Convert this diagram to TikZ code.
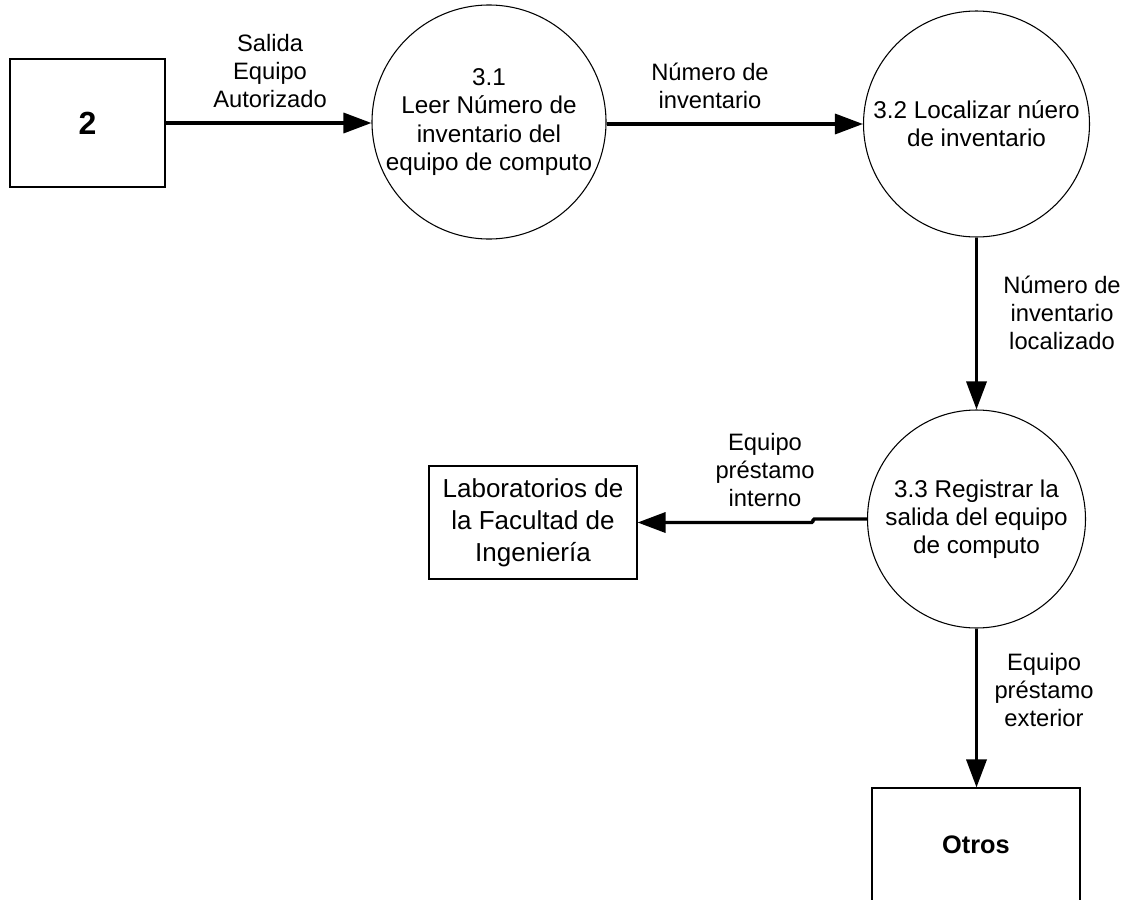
\documentclass[tikz,border=0pt]{standalone}
\usepackage{fontspec}
\setmainfont{Liberation Sans}
\usetikzlibrary{arrows.meta}

\tikzset{
  entity/.style={draw=black, line width=0.8pt, rectangle, inner sep=0pt,
    align=center, font=\fontsize{19}{23}\selectfont\bfseries},
  process/.style={draw=black, line width=0.8pt, circle, inner sep=0pt,
    align=center, font=\fontsize{18.2}{21.2}\selectfont},
  labbox/.style={draw=black, line width=0.8pt, rectangle, inner sep=0pt,
    align=center, font=\fontsize{19.5}{24}\selectfont},
  flowlabel/.style={align=center, inner sep=0pt, font=\fontsize{17.8}{21}\selectfont},
  flow/.style={line width=2.6pt, -{Triangle[length=21pt, width=15pt]}},
}

\begin{document}
\begin{tikzpicture}[x=0.75pt, y=-0.75pt]
  % external entities and data stores
  \node[entity, minimum width=116.25pt, minimum height=96pt,
    font=\fontsize{24}{28}\selectfont\bfseries] (src) at (87.5,123) {2};
  \node[labbox, minimum width=156pt, minimum height=84.75pt] (labs) at (533,522.5)
    {Laboratorios de\\la Facultad de\\Ingeniería};
  \node[entity, minimum width=156pt, minimum height=85.5pt] (otros) at (976,845) {Otros};

  % processes
  \node[process, minimum size=175.5pt] (p31) at (489,122)
    {3.1\\Leer Número de\\inventario del\\equipo de computo};
  \node[process, minimum size=169.5pt] (p32) at (976.5,124)
    {3.2 Localizar núero\\de inventario};
  \node[process, minimum size=163.5pt] (p33) at (976.5,519)
    {3.3 Registrar la\\salida del equipo\\de computo};

  % data flows
  \draw[flow] (src.east |- 0,123) -- (p31.west |- 0,123);
  \draw[flow] (p31.east |- 0,124) -- (p32.west);
  \draw[flow] (p32.south) -- (p33.north);
  \coordinate (jog) at (813,0);
  \draw[flow, rounded corners=1pt] (p33.west) -- (p33.west -| jog) -- (labs.east -| jog) -- (labs.east);
  \draw[flow] (p33.south) -- (otros.north -| p33.south);

  % flow labels
  \node[flowlabel] (l1) at (270,71) {Salida\\Equipo\\Autorizado};
  \node[flowlabel] (l2) at (710,86) {Número de\\inventario};
  \node[flowlabel] (l3) at (1062,313) {Número de\\inventario\\localizado};
  \node[flowlabel] (l4) at (765,470) {Equipo\\préstamo\\interno};
  \node[flowlabel] (l5) at (1044,690) {Equipo\\préstamo\\exterior};

  \pgfresetboundingbox
  \useasboundingbox (0,0) rectangle (1127,899);
\end{tikzpicture}
\end{document}
